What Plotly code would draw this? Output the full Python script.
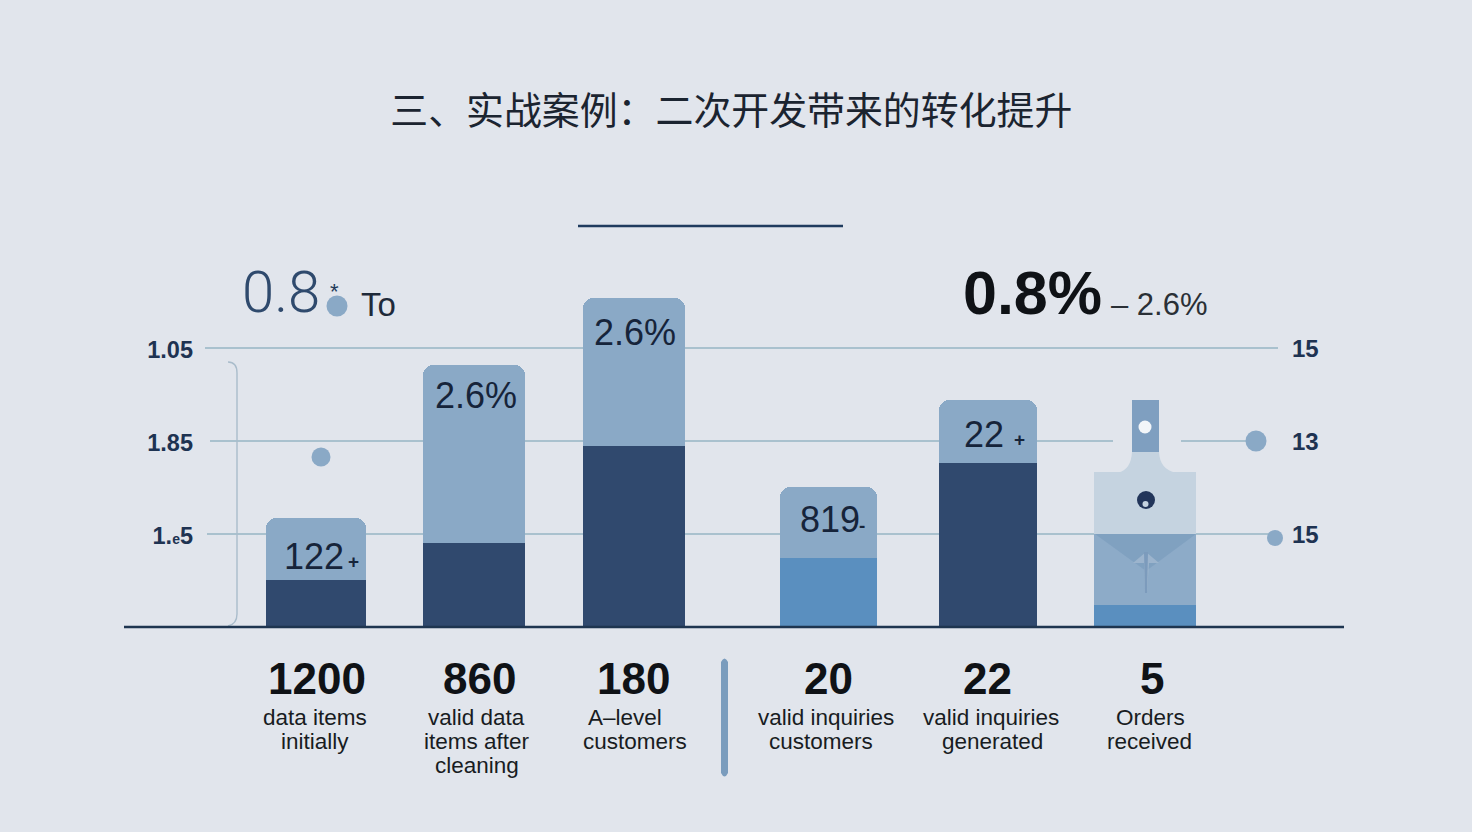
import plotly.graph_objects as go

# chart values (bar parts in the picture's own unit)
totals = ["1200", "860", "180", "20", "22", "5"]
captions = [
    ["data items", "initially"],
    ["valid data", "items after", "cleaning"],
    ["A\u2013level", "customers"],
    ["valid inquiries", "customers"],
    ["valid inquiries", "generated"],
    ["Orders", "received"],
]
lower_part = [47, 84, 181, 69, 164, 22]
upper_part = [62, 178, 148, 71, 63, 71]
top_part = [62]
bar_notes = ["122", "2.6%", "2.6%", "819", "22", ""]
note_marks = ["+", "", "", "-", "+", ""]
left_ticks = [279, 186, 93]
left_text = ["1.05", "1.85", "1.<span style='font-size:14px'>e</span>5"]
right_text = ["15", "13", "15"]
title_text = "三、实战案例\uff1a二次开发带来的转化提升"

# layout stuff (pixels of the 1472x832 page)
W, H = 1472, 832
L, R, T, B = 205, 1278, 280, 627
bar_px = [316, 474, 634, 828, 988, 1145]
width_px = [100, 102, 102, 97, 98, 102]
note_px = [(314, 556), (476, 395), (635, 332), (830, 519), (984, 434)]
mark_px = [(353, 561), None, None, (862, 525), (1019, 439)]
total_px = [317, 479, 633, 828, 987, 1152]
caption_px = [[315, 315], [476, 477, 477], [625, 635], [826, 821], [991, 992], [1150, 1149]]
SLOT = 160.0

DARK = "#30496e"
LIGHT = "#8aa9c6"
BLUE = "#5a8fbf"
PALE = "#c5d3e0"
MID = "#8dabc8"
GRID = "#a9c1ce"
INK = "#1e3352"
BLACK = "#0f1216"
SANS = "Liberation Sans"


def X(px):
    return (px - L) / (R - L)


def Y(py):
    return (B - py) / (B - T)


slots = [(p - bar_px[0]) / SLOT for p in bar_px]
widths = [w / SLOT for w in width_px]
x_range = [(L - bar_px[0]) / SLOT, (R - bar_px[0]) / SLOT]
lower_colors = [DARK, DARK, DARK, BLUE, DARK]

fig = go.Figure()
fig.add_trace(go.Bar(x=slots[:5], y=lower_part[:5], width=widths[:5], marker_color=lower_colors,
                     marker_line_width=0, marker_cornerradius=10))
fig.add_trace(go.Bar(x=slots[:5], y=upper_part[:5], width=widths[:5], marker_color=LIGHT,
                     marker_line_width=0, marker_cornerradius=10))
# the last bar has square corners, so it sits on its own overlaid axes
for part, color in [(lower_part[5:], BLUE), (upper_part[5:], MID), (top_part, PALE)]:
    fig.add_trace(go.Bar(x=slots[5:], y=part, width=widths[5:], marker_color=color, marker_line_width=0,
                         xaxis="x2", yaxis="y2"))

shapes = []
annotations = []


def hline(x0, x1, py, color=GRID, width=1.8, layer="below"):
    shapes.append(dict(type="line", xref="paper", yref="paper", x0=X(x0), x1=X(x1), y0=Y(py), y1=Y(py),
                       line=dict(color=color, width=width), layer=layer))


def dot(cx, cy, r, color):
    shapes.append(dict(type="circle", xref="paper", yref="paper", x0=X(cx - r), x1=X(cx + r),
                       y0=Y(cy + r), y1=Y(cy - r), fillcolor=color, line_width=0, layer="above"))


def poly(points, color, layer="above", opacity=1):
    path = "M " + " L ".join("%.5f,%.5f" % (X(a), Y(b)) for a, b in points) + " Z"
    shapes.append(dict(type="path", xref="paper", yref="paper", path=path, fillcolor=color,
                       line_width=0, layer=layer, opacity=opacity))


def label(px, py, text, size, color=BLACK, weight=400, family=SANS, anchor="center"):
    annotations.append(dict(xref="paper", yref="paper", x=X(px), y=Y(py), text=text, showarrow=False,
                            xanchor=anchor, yanchor="middle", borderpad=0,
                            font=dict(size=size, color=color, family=family, weight=weight)))


# grid pieces
hline(205, 1278, 348)
hline(210, 1113, 441)
hline(1181, 1256, 441)
hline(207, 1275, 534)
# title rule and baseline
hline(578, 843, 226, color="#1f3b5e", width=2.6, layer="above")
hline(124, 1344, 627, color="#1e3550", width=2.6, layer="above")

# bracket on the left
shapes.append(dict(type="path", xref="paper", yref="paper",
                   path="M %.5f,%.5f Q %.5f,%.5f %.5f,%.5f L %.5f,%.5f Q %.5f,%.5f %.5f,%.5f" % (
                       X(228), Y(362), X(237), Y(362), X(237), Y(373),
                       X(237), Y(614), X(237), Y(624), X(228), Y(626)),
                   line=dict(color="#a9bccb", width=1.4), layer="below"))

# divider between the two groups
shapes.append(dict(type="path", xref="paper", yref="paper",
                   path="M %.5f,%.5f Q %.5f,%.5f %.5f,%.5f L %.5f,%.5f Q %.5f,%.5f %.5f,%.5f Z" % (
                       X(721), Y(662), X(724.5), Y(655), X(728), Y(662),
                       X(728), Y(773), X(724.5), Y(780), X(721), Y(773)),
                   fillcolor="#7a9cbd", line_width=0))

# bottle neck on the last bar
poly([(1132, 400), (1159, 400), (1159, 452), (1132, 452)], "#7f9fc0")
shapes.append(dict(type="path", xref="paper", yref="paper",
                   path="M %.5f,%.5f L %.5f,%.5f Q %.5f,%.5f %.5f,%.5f L %.5f,%.5f Q %.5f,%.5f %.5f,%.5f Z" % (
                       X(1132), Y(452), X(1159), Y(452), X(1160), Y(470), X(1176), Y(472.5),
                       X(1118), Y(472.5), X(1131), Y(470), X(1132), Y(452)),
                   fillcolor=PALE, line_width=0))
poly([(1095, 534), (1196, 534), (1146, 571)], "#7c9dbe", opacity=0.75)
poly([(1133, 563), (1146, 552), (1159, 563), (1149, 563), (1147, 593), (1145, 593), (1144, 563)], "#a2b9d0", opacity=0.8)
poly([(1144, 552), (1148, 552), (1147, 593), (1145, 593)], "#7c9bbc")

# dots
dot(337, 306, 10.5, LIGHT)
dot(321, 457, 9.5, LIGHT)
dot(1256, 441, 10.5, LIGHT)
dot(1275, 538, 8, LIGHT)
dot(1145, 427, 6.5, "#f3f6f9")
dot(1146, 500, 9, "#22355a")
dot(1145.5, 504, 3, "#c5d3e0")

# headline numbers above the bars
label(241, 292, "0.8", 58, color="#2f4a6d", family="Roboto", weight=300, anchor="left")
label(334, 291, "*", 22, color="#223a5a")
label(360, 304, "To", 33, color="#1f2a3a", anchor="left")
label(962, 293, "0.8%", 61, color=BLACK, weight=700, anchor="left")
label(1110, 304, "\u2013 2.6%", 31, color="#2a3036", anchor="left")

# notes inside the bars
for note, pos in zip(bar_notes, note_px):
    label(pos[0], pos[1], note, 36, color="#16243a")
for mark, pos in zip(note_marks, mark_px):
    if pos:
        label(pos[0], pos[1], mark, 19, color="#16243a", weight=700)

# numbers and captions under the baseline
for total, tx, lines, line_xs in zip(totals, total_px, captions, caption_px):
    label(tx, 678, "<b>%s</b>" % total, 44)
    for i, line in enumerate(lines):
        label(line_xs[i], 717.5 + 24 * i, line, 22.5, color="#181c22")

fig.update_layout(
    width=W,
    height=H,
    autosize=False,
    paper_bgcolor="#e1e5ec",
    plot_bgcolor="rgba(0,0,0,0)",
    barmode="stack",
    bargap=0,
    showlegend=False,
    margin=dict(l=L, r=W - R, t=T, b=H - B, pad=0),
    title=dict(text=title_text, x=722 / W, xanchor="center", xref="paper", y=1 - 111 / H, yanchor="middle",
               font=dict(family="Noto Sans CJK SC", size=37.9, color="#1b2430")),
    xaxis=dict(range=x_range, visible=False, fixedrange=True),
    xaxis2=dict(range=x_range, visible=False, fixedrange=True, overlaying="x", anchor="y2"),
    yaxis=dict(range=[0, B - T], tickmode="array", tickvals=left_ticks, ticktext=left_text, showgrid=False,
               zeroline=False, showline=False, ticks="", ticklabelstandoff=11, ticklabelshift=2,
               tickfont=dict(family=SANS, size=23.5, color=INK, weight=700)),
    yaxis2=dict(range=[0, B - T], overlaying="y", side="right", anchor="x2", tickmode="array",
                tickvals=left_ticks, ticktext=right_text, showgrid=False, zeroline=False, showline=False,
                ticks="", ticklabelstandoff=13, ticklabelshift=1,
                tickfont=dict(family=SANS, size=24, color=INK, weight=700)),
    shapes=shapes,
    annotations=annotations,
)

# the page's default body margin would push the figure off by 8px
fig.write_html("out.html", config={"displayModeBar": False},
               post_script="document.body.style.margin='0';document.body.style.background='#e1e5ec';")
